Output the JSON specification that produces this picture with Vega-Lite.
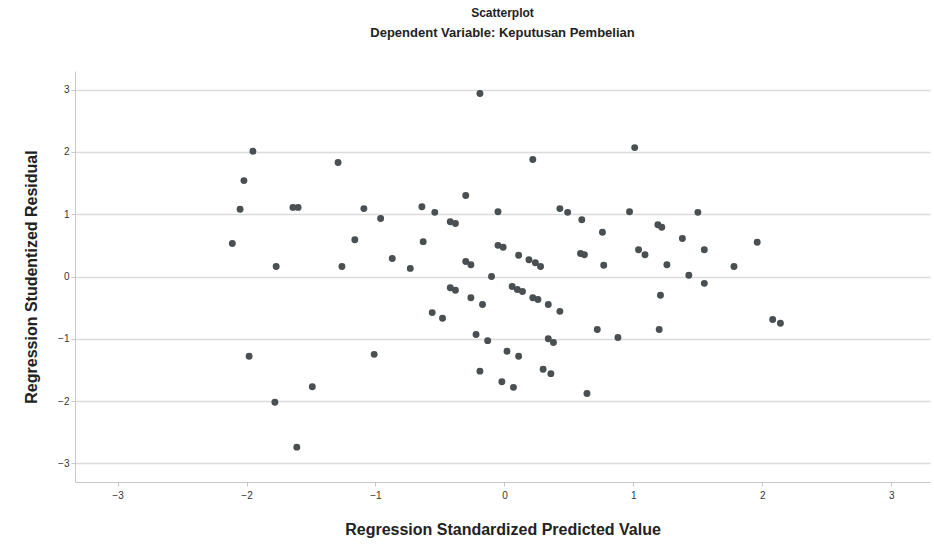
{
  "$schema": "https://vega.github.io/schema/vega-lite/v6.json",
  "width": 855,
  "height": 411,
  "autosize": {"type": "none"},
  "padding": {"left": 75, "top": 71, "right": 4, "bottom": 65},
  "background": "white",
  "title": {
    "text": "Scatterplot",
    "subtitle": "Dependent Variable: Keputusan Pembelian",
    "anchor": "middle",
    "font": "Liberation Sans",
    "fontSize": 12,
    "fontWeight": "bold",
    "color": "#222222",
    "subtitleFont": "Liberation Sans",
    "subtitleFontSize": 13,
    "subtitleFontWeight": "bold",
    "subtitleColor": "#222222",
    "subtitlePadding": 7,
    "offset": 30
  },
  "config": {
    "view": {"stroke": null},
    "axis": {
      "labelFont": "Liberation Sans",
      "titleFont": "Liberation Sans",
      "labelColor": "#333333",
      "titleColor": "#222222",
      "domainColor": "#c8c8c8",
      "tickColor": "#c8c8c8",
      "gridColor": "#dcdcdc",
      "gridWidth": 1.5
    }
  },
  "data": {
    "values": [
      {"x": -0.19, "y": 2.94}, {"x": -1.95, "y": 2.01}, {"x": -1.29, "y": 1.83}, {"x": 0.22, "y": 1.88},
      {"x": 1.01, "y": 2.07}, {"x": -2.02, "y": 1.54}, {"x": -0.30, "y": 1.30}, {"x": -2.05, "y": 1.08},
      {"x": -1.64, "y": 1.11}, {"x": -1.60, "y": 1.11}, {"x": -1.09, "y": 1.09}, {"x": -0.96, "y": 0.93},
      {"x": -0.64, "y": 1.12}, {"x": -0.54, "y": 1.03}, {"x": -0.42, "y": 0.88}, {"x": -0.38, "y": 0.85},
      {"x": -0.05, "y": 1.04}, {"x": 0.43, "y": 1.09}, {"x": 0.49, "y": 1.03}, {"x": 0.60, "y": 0.91},
      {"x": 0.76, "y": 0.71}, {"x": 0.97, "y": 1.04}, {"x": 1.19, "y": 0.83}, {"x": 1.22, "y": 0.79},
      {"x": 1.38, "y": 0.61}, {"x": 1.50, "y": 1.03}, {"x": -2.11, "y": 0.53}, {"x": -1.16, "y": 0.59},
      {"x": -0.63, "y": 0.56}, {"x": -0.05, "y": 0.50}, {"x": -0.01, "y": 0.47}, {"x": 0.11, "y": 0.34},
      {"x": 0.19, "y": 0.27}, {"x": 0.24, "y": 0.22}, {"x": 0.28, "y": 0.16}, {"x": -0.87, "y": 0.29},
      {"x": -0.73, "y": 0.13}, {"x": -1.26, "y": 0.16}, {"x": -1.77, "y": 0.16}, {"x": -0.30, "y": 0.24},
      {"x": -0.26, "y": 0.19}, {"x": -0.10, "y": 0.0}, {"x": 0.59, "y": 0.37}, {"x": 0.62, "y": 0.35},
      {"x": 0.77, "y": 0.18}, {"x": 1.04, "y": 0.43}, {"x": 1.09, "y": 0.35}, {"x": 1.26, "y": 0.19},
      {"x": 1.43, "y": 0.02}, {"x": 1.55, "y": 0.43}, {"x": 1.55, "y": -0.11}, {"x": 1.78, "y": 0.16},
      {"x": 1.96, "y": 0.55}, {"x": -0.42, "y": -0.18}, {"x": -0.38, "y": -0.22}, {"x": -0.26, "y": -0.34},
      {"x": -0.17, "y": -0.45}, {"x": 0.06, "y": -0.16}, {"x": 0.10, "y": -0.21}, {"x": 0.14, "y": -0.24},
      {"x": 0.22, "y": -0.34}, {"x": 0.26, "y": -0.37}, {"x": 0.34, "y": -0.45}, {"x": 0.43, "y": -0.56},
      {"x": 1.21, "y": -0.30}, {"x": -0.56, "y": -0.58}, {"x": -0.48, "y": -0.67}, {"x": -0.22, "y": -0.93},
      {"x": -0.13, "y": -1.03}, {"x": 0.34, "y": -1.00}, {"x": 0.38, "y": -1.06}, {"x": 0.72, "y": -0.85},
      {"x": 0.88, "y": -0.98}, {"x": 1.20, "y": -0.85}, {"x": 2.08, "y": -0.69}, {"x": 2.14, "y": -0.75},
      {"x": -1.98, "y": -1.28}, {"x": -1.01, "y": -1.25}, {"x": 0.02, "y": -1.20}, {"x": 0.11, "y": -1.28},
      {"x": -0.19, "y": -1.52}, {"x": 0.30, "y": -1.49}, {"x": 0.36, "y": -1.56}, {"x": -0.02, "y": -1.69},
      {"x": 0.07, "y": -1.78}, {"x": -1.49, "y": -1.77}, {"x": 0.64, "y": -1.88}, {"x": -1.78, "y": -2.02},
      {"x": -1.61, "y": -2.74}
    ]
  },
  "mark": {"type": "point", "filled": true, "size": 48, "color": "#4a4f52", "opacity": 1},
  "encoding": {
    "x": {
      "field": "x",
      "type": "quantitative",
      "scale": {"domain": [-3.33, 3.3], "nice": false, "zero": false},
      "axis": {
        "title": "Regression Standardized Predicted Value",
        "values": [-3, -2, -1, 0, 1, 2, 3],
        "grid": false,
        "tickSize": 4,
        "labelPadding": 4,
        "labelFontSize": 10,
        "titleFontSize": 16,
        "titleFontWeight": "bold",
        "titlePadding": 21
      }
    },
    "y": {
      "field": "y",
      "type": "quantitative",
      "scale": {"domain": [-3.3, 3.3], "nice": false, "zero": false},
      "axis": {
        "title": "Regression Studentized Residual",
        "values": [-3, -2, -1, 0, 1, 2, 3],
        "grid": true,
        "tickSize": 4,
        "labelPadding": 2,
        "labelFontSize": 10,
        "titleFontSize": 16,
        "titleFontWeight": "bold",
        "titlePadding": 18
      }
    }
  }
}
